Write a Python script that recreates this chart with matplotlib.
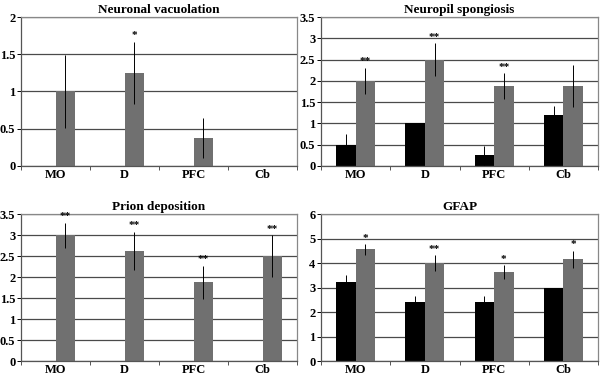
import matplotlib
matplotlib.use("Agg")
import matplotlib.pyplot as plt
import numpy as np

plt.rcParams['font.family'] = ['Liberation Serif', 'DejaVu Serif']
plt.rcParams['font.weight'] = 'bold'

regiones = ["MO", "D", "PFC", "Cb"]

# Neuronal vacuolation
vac_negro = [0, 0, 0, 0]
vac_negro_err = [0, 0, 0, 0]
vac_gris = [1.0, 1.25, 0.38, 0]
vac_gris_err = [0.49, 0.42, 0.27, 0]
vac_estrellas = ["", "*", "", ""]

# Neuropil spongiosis
esp_negro = [0.5, 1.0, 0.25, 1.2]
esp_negro_err = [0.26, 0, 0.22, 0.2]
esp_gris = [2.0, 2.5, 1.875, 1.875]
esp_gris_err = [0.31, 0.38, 0.3, 0.49]
esp_estrellas = ["**", "**", "**", ""]

# Prion deposition
pri_negro = [0, 0, 0, 0]
pri_negro_err = [0, 0, 0, 0]
pri_gris = [3.0, 2.62, 1.875, 2.5]
pri_gris_err = [0.3, 0.46, 0.4, 0.5]
pri_estrellas = ["**", "**", "**", "**"]

# GFAP
gfap_negro = [3.25, 2.4, 2.4, 3.0]
gfap_negro_err = [0.26, 0.26, 0.26, 0]
gfap_gris = [4.56, 4.0, 3.63, 4.15]
gfap_gris_err = [0.21, 0.33, 0.28, 0.36]
gfap_estrellas = ["*", "**", "*", "*"]

paneles = [
    ("Neuronal vacuolation", vac_negro, vac_negro_err, vac_gris, vac_gris_err, vac_estrellas, 2, 0.5),
    ("Neuropil spongiosis", esp_negro, esp_negro_err, esp_gris, esp_gris_err, esp_estrellas, 3.5, 0.5),
    ("Prion deposition", pri_negro, pri_negro_err, pri_gris, pri_gris_err, pri_estrellas, 3.5, 0.5),
    ("GFAP", gfap_negro, gfap_negro_err, gfap_gris, gfap_gris_err, gfap_estrellas, 6, 1),
]

# posiciones de los ejes en fraccion de figura
posiciones = [
    [0.035, 0.5597, 0.46, 0.3952],
    [0.535, 0.5597, 0.4617, 0.3952],
    [0.035, 0.042, 0.46, 0.390],
    [0.535, 0.042, 0.4617, 0.390],
]

fig = plt.figure(figsize=(6, 3.77), dpi=100)
x = np.arange(len(regiones))
ancho = 0.28

for (titulo, negro, negro_err, gris, gris_err, estrellas, ymax, paso), pos in zip(paneles, posiciones):
    ax = fig.add_axes(pos)
    ax.set_axisbelow(True)
    ax.yaxis.grid(True, color="#4a4a4a", linewidth=0.9)

    ax.bar(x - ancho / 2, negro, ancho, color="black", zorder=2)
    ax.errorbar(x - ancho / 2, negro, yerr=negro_err, fmt="none", ecolor="black",
                elinewidth=0.7, capsize=0, zorder=3)
    ax.bar(x + ancho / 2, gris, ancho, color="#707070", zorder=2)
    ax.errorbar(x + ancho / 2, gris, yerr=gris_err, fmt="none", ecolor="black",
                elinewidth=0.7, capsize=0, zorder=3)

    for i, s in enumerate(estrellas):
        if s:
            ax.annotate(s, (x[i] + ancho / 2, gris[i] + gris_err[i]), xytext=(0, 1),
                        textcoords="offset points", ha="center", va="bottom",
                        fontsize=8, fontweight="bold", annotation_clip=False)

    ax.set_xlim(-0.5, 3.5)
    ax.set_ylim(0, ymax)
    ax.set_yticks(np.arange(0, ymax + paso / 2, paso))
    ax.set_yticklabels([f"{v:g}" for v in np.arange(0, ymax + paso / 2, paso)])
    ax.set_xticks(x)
    ax.set_xticklabels(regiones)
    ax.set_xticks(np.arange(-0.5, 4, 1), minor=True)
    ax.tick_params(axis="x", which="major", length=0, pad=2, labelsize=9)
    ax.tick_params(axis="x", which="minor", length=3, width=0.7, color="#555555")
    ax.tick_params(axis="y", length=3, width=0.7, pad=1, labelsize=9)

    for lado in ["left", "bottom"]:
        ax.spines[lado].set_color("#555555")
        ax.spines[lado].set_linewidth(0.9)
    for lado in ["top", "right"]:
        ax.spines[lado].set_color("#888888")
        ax.spines[lado].set_linewidth(0.9)

    ax.set_title(titulo, fontsize=9.5, fontweight="bold", pad=3)

fig.savefig("out.png", dpi=100)
